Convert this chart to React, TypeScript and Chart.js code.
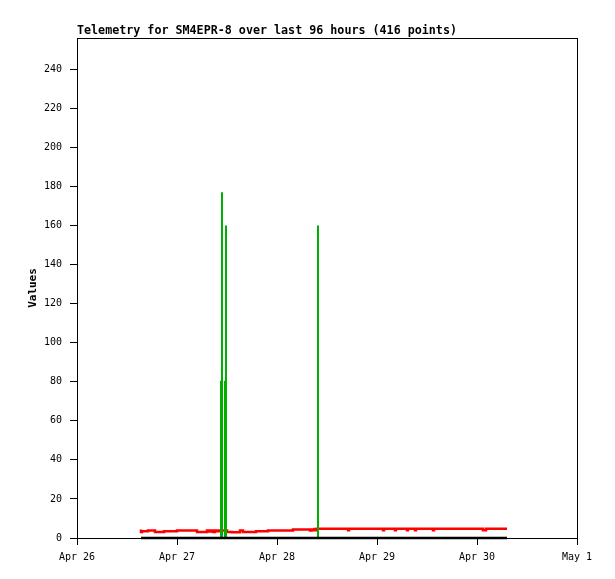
import React, { useEffect, useRef } from "react";
import { Chart, registerables } from "chart.js";

Chart.register(...registerables);

// hours since Apr 26 00:00
const xTickLabels = ["Apr 26", "Apr 27", "Apr 28", "Apr 29", "Apr 30", "May 1"];

const redHours = [15.36, 15.6, 17.04, 18.72, 20.88, 24.0, 28.8, 31.2, 31.68, 32.16, 32.64, 33.12, 33.6, 34.08, 36.0, 37.2, 39.12, 39.84, 42.96, 45.84, 51.84, 55.92, 56.28, 56.64, 57.0, 57.36, 57.6, 65.04, 65.28, 73.44, 73.68, 76.32, 76.56, 79.2, 79.44, 81.12, 81.36, 85.44, 85.68, 97.44, 98.16, 102.96, 103.2];
const redValues = [4.3, 3.1, 3.5, 3.9, 3.1, 3.5, 3.9, 3.1, 3.9, 3.3, 3.9, 3.1, 3.9, 3.5, 3.9, 3.1, 2.9, 3.9, 3.1, 3.5, 3.9, 4.4, 3.9, 4.4, 4.0, 4.6, 4.0, 4.8, 4.0, 4.8, 4.0, 4.8, 4.0, 4.8, 4.0, 4.8, 4.0, 4.8, 4.0, 4.8, 4.0, 4.8, 4.8];

const greenHours = [15.36, 34.56, 34.56, 34.8, 34.8, 34.8, 35.52, 35.52, 35.76, 35.76, 35.76, 57.84, 57.84, 57.84, 103.2];
const greenValues = [0, 0, 80, 80, 177, 0, 0, 80, 80, 160, 0, 0, 160, 0, 0];

const blackHours = [15.36, 103.2];
const blackValues = [0, 0];

const titleText = "Telemetry for SM4EPR-8 over last 96 hours (416 points)";
const yTitle = "Values";

const FONT = "'DejaVu Sans Mono', 'Liberation Mono', monospace";

function pts(xs: number[], ys: number[]) {
  return xs.map((x, i) => ({ x, y: ys[i] }));
}

const framePlugin = {
  id: "frameAndText",
  afterDraw(chart: any) {
    const { ctx, chartArea } = chart;
    ctx.save();
    ctx.strokeStyle = "#000";
    ctx.lineWidth = 1;
    ctx.strokeRect(
      Math.round(chartArea.left) + 0.5,
      Math.round(chartArea.top) + 0.5,
      Math.round(chartArea.right - chartArea.left),
      Math.round(chartArea.bottom - chartArea.top)
    );
    ctx.fillStyle = "#000";
    ctx.font = "bold 11.7px " + FONT;
    ctx.textAlign = "left";
    ctx.textBaseline = "alphabetic";
    ctx.fillText(titleText, 77, 34);
    ctx.font = "bold 11px " + FONT;
    ctx.translate(36, (chartArea.top + chartArea.bottom) / 2);
    ctx.rotate(-Math.PI / 2);
    ctx.textAlign = "center";
    ctx.fillText(yTitle, 0, 0);
    ctx.restore();
  },
};

export default function App() {
  const ref = useRef<HTMLCanvasElement>(null);
  useEffect(() => {
    if (!ref.current) return;
    Chart.defaults.font.family = FONT;
    Chart.defaults.font.size = 10;
    Chart.defaults.color = "#000";
    const chart = new Chart(ref.current, {
      type: "line",
      data: {
        datasets: [
          {
            data: pts(blackHours, blackValues),
            borderColor: "#000000",
            borderWidth: 2.5,
            pointRadius: 0,
            clip: 5,
          },
          {
            data: pts(greenHours, greenValues),
            borderColor: "#00b000",
            borderWidth: 2,
            pointRadius: 0,
            clip: 5,
          },
          {
            data: pts(redHours, redValues),
            borderColor: "#ff0000",
            borderWidth: 2.5,
            pointRadius: 0,
            stepped: "after",
            clip: 5,
          },
        ],
      },
      options: {
        responsive: false,
        animation: false,
        devicePixelRatio: 1,
        layout: { padding: { left: 0, right: 38, top: 38, bottom: 0 } },
        plugins: { legend: { display: false }, tooltip: { enabled: false }, title: { display: false } },
        scales: {
          x: {
            type: "linear",
            min: 0,
            max: 120,
            border: { display: false },
            grid: { drawOnChartArea: false, drawTicks: true, tickLength: 7, color: "#000", lineWidth: 1 },
            ticks: {
              stepSize: 24,
              padding: 6,
              maxRotation: 0,
              autoSkip: false,
              includeBounds: false,
              callback: (v: any) => xTickLabels[Math.round(Number(v) / 24)] ?? "",
            },
            afterFit: (s: any) => {
              s.height = 41;
            },
          },
          y: {
            type: "linear",
            min: 0,
            max: 256,
            border: { display: false },
            grid: { drawOnChartArea: false, drawTicks: true, tickLength: 7, color: "#000", lineWidth: 1 },
            ticks: { stepSize: 20, padding: 8, includeBounds: false, autoSkip: false },
            afterFit: (s: any) => {
              s.width = 77;
            },
          },
        },
      },
      plugins: [framePlugin],
    });
    return () => chart.destroy();
  }, []);
  return (
    <div style={{ position: "fixed", left: 0, top: 0, width: 615, height: 579, background: "#fff" }}>
      <canvas ref={ref} width={615} height={579} />
    </div>
  );
}
